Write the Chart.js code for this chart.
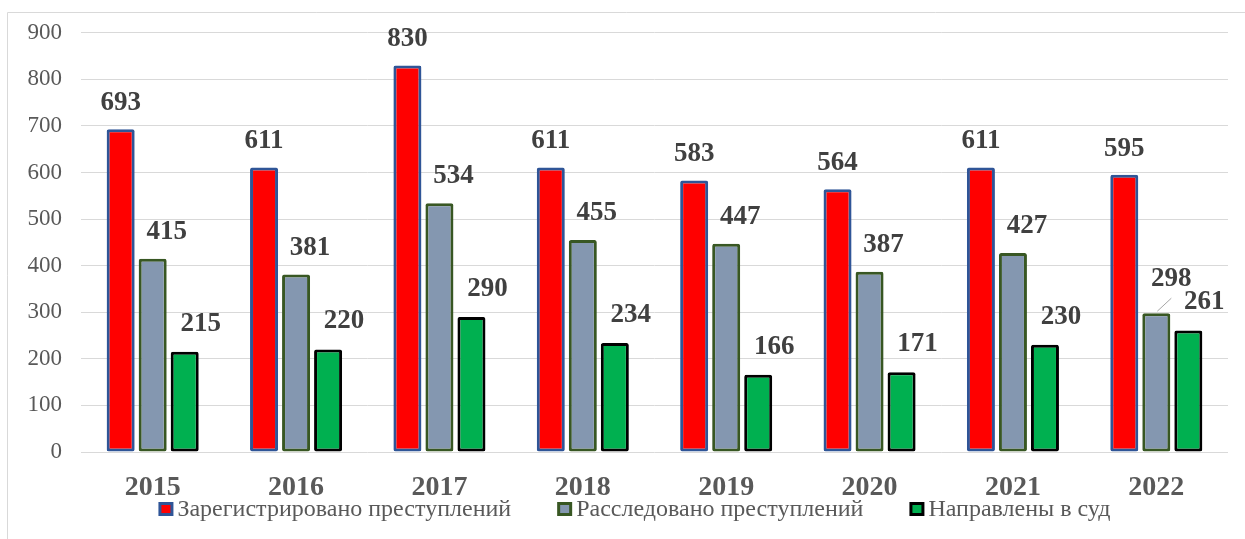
<!DOCTYPE html>
<html>
<head>
<meta charset="utf-8">
<script src="https://cdn.jsdelivr.net/npm/chart.js@4.4.0/dist/chart.umd.min.js"></script>
<style>
  html, body { margin: 0; padding: 0; background: #fff; }
  #wrap { width: 1245px; height: 539px; position: relative; }
</style>
</head>
<body>
<div id="wrap"><canvas id="chart" width="1245" height="539"></canvas></div>
<script>
// Data
const years = ["2015", "2016", "2017", "2018", "2019", "2020", "2021", "2022"];
const registered = [693, 611, 830, 611, 583, 564, 611, 595];
const investigated = [415, 381, 534, 455, 447, 387, 427, 298];
const sentToCourt = [215, 220, 290, 234, 166, 171, 230, 261];
const seriesNames = ["Зарегистрировано преступлений", "Расследовано преступлений", "Направлены в суд"];

const SERIF = "'Liberation Serif', 'Times New Roman', serif";
Chart.defaults.font.family = SERIF;

// label offsets per series (dx, dy from bar top)
const labelShift = [
  { dx: 0, dy: -26 },
  { dx: 14, dy: -27 },
  { dx: 16, dy: -28 }
];

// outer frame like the Word chart border
const framePlugin = {
  id: "frame",
  beforeDraw(chart) {
    const ctx = chart.ctx;
    ctx.save();
    ctx.strokeStyle = "#d9d9d9";
    ctx.lineWidth = 1;
    ctx.beginPath();
    ctx.moveTo(7.5, 539);
    ctx.lineTo(7.5, 12.5);
    ctx.lineTo(1245, 12.5);
    ctx.stroke();
    ctx.restore();
  }
};

// value labels above the bars
const valueLabels = {
  id: "valueLabels",
  afterDatasetsDraw(chart) {
    const ctx = chart.ctx;
    ctx.save();
    ctx.font = "bold 27px " + SERIF;
    ctx.fillStyle = "#404040";
    ctx.textAlign = "center";
    ctx.textBaseline = "middle";
    chart.data.datasets.forEach((ds, di) => {
      const meta = chart.getDatasetMeta(di);
      meta.data.forEach((bar, i) => {
        let x = bar.x + labelShift[di].dx;
        let y = bar.y + labelShift[di].dy;
        if (di === 1 && i === 7) {
          // label pushed up with a leader line
          x = bar.x + 15;
          y = bar.y - 34;
          ctx.strokeStyle = "#a6a6a6";
          ctx.lineWidth = 1;
          ctx.beginPath();
          ctx.moveTo(bar.x + 1, bar.y - 2);
          ctx.lineTo(bar.x + 15, bar.y - 15);
          ctx.stroke();
        }
        ctx.fillText(ds.data[i], x, y);
      });
    });
    ctx.restore();
  }
};

// legend row under the axis, spaced like the Word legend
const legendRow = {
  id: "legendRow",
  afterDraw(chart) {
    const ctx = chart.ctx;
    ctx.save();
    ctx.font = "24px " + SERIF;
    ctx.textBaseline = "middle";
    const box = 15, textGap = 4, itemGap = 46;
    const widths = chart.data.datasets.map(ds => box + textGap + ctx.measureText(ds.label).width);
    const total = widths.reduce((a, b) => a + b, 0) + itemGap * (widths.length - 1);
    let x = 634.5 - total / 2;
    const y = 509;
    chart.data.datasets.forEach((ds, di) => {
      const bw = ds.borderWidth;
      ctx.fillStyle = ds.borderColor;
      ctx.fillRect(x, y - 7, box, 14);
      ctx.fillStyle = ds.backgroundColor;
      ctx.fillRect(x + bw, y - 7 + bw, box - 2 * bw, 14 - 2 * bw);
      ctx.fillStyle = "#595959";
      ctx.fillText(ds.label, x + box + textGap, y + 1);
      x += widths[di] + itemGap;
    });
    ctx.restore();
  }
};

new Chart(document.getElementById("chart"), {
  type: "bar",
  data: {
    labels: years,
    datasets: [
      {
        label: seriesNames[0],
        data: registered,
        backgroundColor: "#ff0000",
        borderColor: "#2f5597",
        borderWidth: 3
      },
      {
        label: seriesNames[1],
        data: investigated,
        backgroundColor: "#8497b0",
        borderColor: "#385723",
        borderWidth: 3
      },
      {
        label: seriesNames[2],
        data: sentToCourt,
        backgroundColor: "#00b050",
        borderColor: "#000000",
        borderWidth: 3
      }
    ]
  },
  options: {
    responsive: false,
    animation: false,
    datasets: {
      bar: {
        categoryPercentage: 0.67,
        barPercentage: 0.875,
        borderSkipped: false,
        borderRadius: 2
      }
    },
    layout: { padding: { left: 0, right: 17, top: 28, bottom: 37 } },
    scales: {
      x: {
        grid: { display: false },
        border: { display: false },
        ticks: {
          color: "#595959",
          font: { family: SERIF, size: 28, weight: "bold" },
          padding: 11
        },
        afterFit(scale) { scale.height = 50; }
      },
      y: {
        min: 0,
        max: 900,
        grid: { color: "#d9d9d9", lineWidth: 1, drawTicks: false },
        border: { display: false },
        ticks: {
          stepSize: 100,
          color: "#595959",
          font: { family: SERIF, size: 23 },
          padding: 19
        },
        afterFit(scale) { scale.width = 81; }
      }
    },
    plugins: {
      legend: { display: false },
      tooltip: { enabled: false }
    }
  },
  plugins: [framePlugin, valueLabels, legendRow]
});
</script>
</body>
</html>
